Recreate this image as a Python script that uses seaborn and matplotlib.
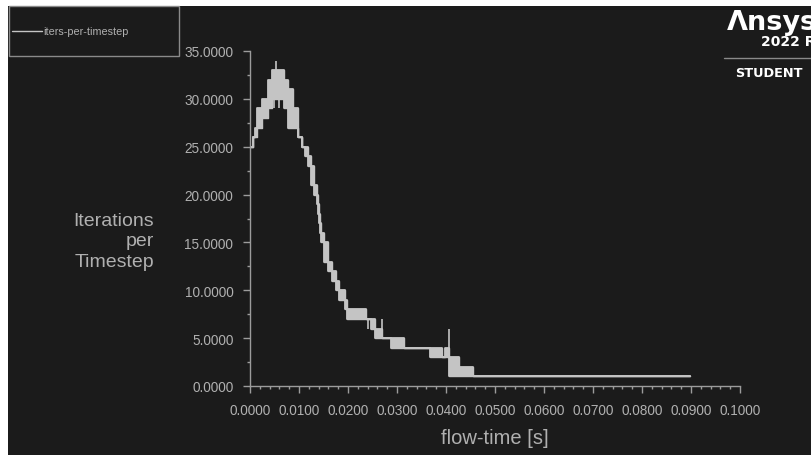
import numpy as np
import pandas as pd
import matplotlib
matplotlib.use('Agg')
import matplotlib.pyplot as plt
from matplotlib.patches import Rectangle
from matplotlib.lines import Line2D
from matplotlib.ticker import MultipleLocator, FormatStrFormatter
import seaborn as sns

# iteration count per timestep, as segments: start time, low and high value
# (low != high means the count jumps back and forth between them)
seg_t = [0.0000, 0.0006, 0.0010, 0.0014, 0.0024, 0.0037, 0.0045, 0.0069, 0.0078,
         0.0088, 0.0098, 0.0106, 0.0112, 0.0118, 0.0124, 0.0131, 0.0136, 0.0138,
         0.0140, 0.0142, 0.0144, 0.0150, 0.0159, 0.0167, 0.0176, 0.0182, 0.0194,
         0.0198, 0.0237, 0.0247, 0.0255, 0.0269, 0.0288, 0.0314, 0.0367, 0.0392,
         0.0398, 0.0406, 0.0427, 0.0455]
seg_lo = [25, 26, 26, 27, 28, 29, 30, 29, 27, 27, 26, 25, 24, 23, 21, 20, 19, 18,
          17, 16, 15, 13, 12, 11, 10, 9, 8, 7, 7, 6, 5, 5, 4, 4, 3, 3, 3, 1, 1, 1]
seg_hi = [25, 26, 27, 29, 30, 32, 33, 32, 31, 29, 26, 25, 25, 24, 23, 21, 20, 19,
          18, 17, 16, 15, 13, 12, 11, 10, 9, 8, 7, 7, 6, 5, 5, 4, 4, 3, 4, 3, 2, 1]
t_end = 0.0898

# single-step excursions
spike_t = [0.0048, 0.0053, 0.0060, 0.0241, 0.0269, 0.0406]
spike_lo = [29, 33, 29, 6, 5, 3]
spike_hi = [32, 34, 32, 7, 7, 6]

bg = '#1b1b1b'
fg = '#c4c4c4'
axc = '#9c9c9c'
txt = '#b0b0b0'

sns.set_theme(style='dark', rc={'axes.facecolor': bg, 'figure.facecolor': 'white'})
plt.rcParams['font.family'] = ['Liberation Sans', 'DejaVu Sans']

df = pd.DataFrame({'t': seg_t + [t_end],
                   'lo': seg_lo + [seg_lo[-1]],
                   'hi': seg_hi + [seg_hi[-1]]})

fig = plt.figure(figsize=(8.11, 4.56), dpi=100)
fig.patches.append(Rectangle((8 / 811, 0), 1, 1 - 7 / 456, transform=fig.transFigure,
                             facecolor=bg, edgecolor='none', zorder=-10))

ax = fig.add_axes([250 / 811, 1 - 387 / 456, 490 / 811, 335 / 456])
ax.set_facecolor('none')
ax.set_zorder(5)

ax.fill_between(df['t'], df['lo'], df['hi'], step='post', facecolor=fg,
                edgecolor=fg, linewidth=1)
sns.lineplot(x='t', y='lo', data=df, ax=ax, drawstyle='steps-post', estimator=None,
             color=fg, linewidth=1.3, sort=False)
sns.lineplot(x='t', y='hi', data=df, ax=ax, drawstyle='steps-post', estimator=None,
             color=fg, linewidth=1.3, sort=False)
ax.vlines(spike_t, spike_lo, spike_hi, color=fg, linewidth=1.2)

ax.set_xlim(0, 0.1)
ax.set_ylim(0, 35)
ax.grid(False)
for s in ['top', 'right']:
    ax.spines[s].set_visible(False)
for s in ['left', 'bottom']:
    ax.spines[s].set_color(axc)
    ax.spines[s].set_linewidth(1)

ax.xaxis.set_major_locator(MultipleLocator(0.01))
ax.xaxis.set_minor_locator(MultipleLocator(0.002))
ax.yaxis.set_major_locator(MultipleLocator(5))
ax.yaxis.set_minor_locator(MultipleLocator(2.5))
ax.xaxis.set_major_formatter(FormatStrFormatter('%.4f'))
ax.yaxis.set_major_formatter(FormatStrFormatter('%.4f'))
ax.tick_params(which='major', direction='out', length=5, width=1, color=axc,
               labelcolor=txt, labelsize=9.8, pad=7, bottom=True, left=True)
ax.tick_params(which='minor', direction='out', length=2.5, width=1, color=axc,
               bottom=True, left=True)
ax.set_xlabel('flow-time [s]', color=txt, fontsize=14.5, labelpad=8)
ax.set_ylabel('')

fig.text(154 / 811, 1 - 242 / 456, 'Iterations\nper\nTimestep', color=txt, fontsize=14,
         ha='right', va='center', multialignment='right', linespacing=1.25)

# legend box
fig.patches.append(Rectangle((9 / 811, 1 - 57 / 456), 170 / 811, 50 / 456,
                             transform=fig.transFigure, facecolor='none',
                             edgecolor='#8a8a8a', linewidth=1))
fig.lines.append(Line2D([12 / 811, 42 / 811], [1 - 32 / 456, 1 - 32 / 456],
                        transform=fig.transFigure, color=fg, linewidth=1))
fig.text(43 / 811, 1 - 32 / 456, 'iters-per-timestep', color=txt, fontsize=7.8,
         ha='left', va='center')

# logo
fig.text(727 / 811, 1 - 30 / 456, 'Λnsys', color='white', fontsize=19.5,
         fontweight='bold', family=['DejaVu Sans'], ha='left', va='baseline')
fig.text(761 / 811, 1 - 46 / 456, '2022 R1', color='white', fontsize=10,
         fontweight='bold', family=['DejaVu Sans'], ha='left', va='baseline')
fig.lines.append(Line2D([724 / 811, 1], [1 - 59 / 456, 1 - 59 / 456],
                        transform=fig.transFigure, color='#8a8a8a', linewidth=1))
fig.text(735 / 811, 1 - 77 / 456, 'STUDENT', color='white', fontsize=9.3,
         fontweight='bold', family=['DejaVu Sans'], ha='left', va='baseline')

fig.savefig('out.png', dpi=100)
